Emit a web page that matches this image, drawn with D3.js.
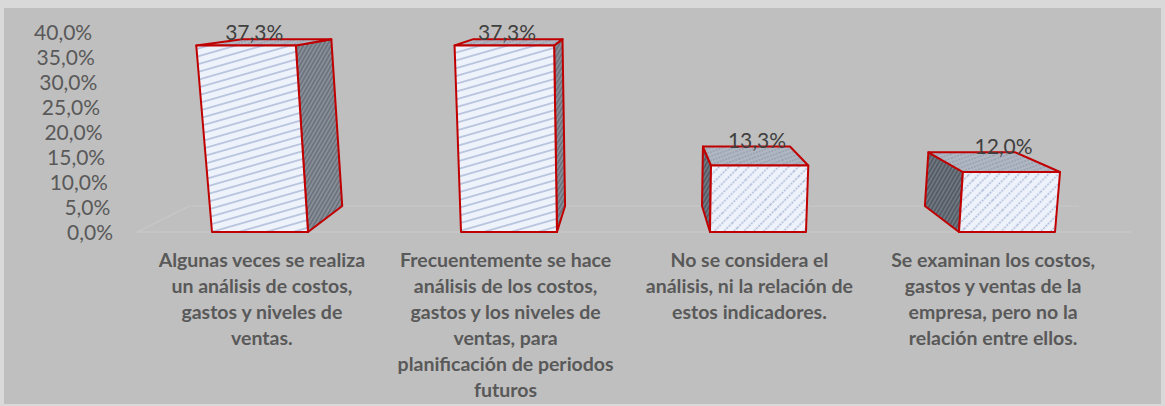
<!DOCTYPE html>
<html><head><meta charset="utf-8">
<script src="https://cdn.jsdelivr.net/npm/d3@7"></script>
<style>html,body{margin:0;padding:0;background:#d9d9d9;}svg{display:block;}</style>
</head><body><svg id="c" width="1165" height="406"></svg>
<script>
// ---- data ----
const categories = [
  "Algunas veces se realiza un análisis de costos, gastos y niveles de ventas.",
  "Frecuentemente se hace análisis de los costos, gastos y los niveles de ventas, para planificación de periodos futuros",
  "No se considera el análisis, ni la relación de estos indicadores.",
  "Se examinan los costos, gastos y ventas de la empresa, pero no la relación entre ellos."
];
const categoryLines = [
  ["Algunas veces se realiza", "un análisis de costos,", "gastos y niveles de", "ventas."],
  ["Frecuentemente se hace", "análisis de los costos,", "gastos y los niveles de", "ventas, para", "planificación de periodos", "futuros"],
  ["No se considera el", "análisis, ni la relación de", "estos indicadores."],
  ["Se examinan los costos,", "gastos y ventas de la", "empresa, pero no la", "relación entre ellos."]
];
const values = [0.373, 0.373, 0.133, 0.120];
const yTicks = [0, 0.05, 0.10, 0.15, 0.20, 0.25, 0.30, 0.35, 0.40];

// ---- setup ----
const svg = d3.select("#c");
const locale = d3.formatLocale({decimal: ",", thousands: ".", grouping: [3], currency: ["", "€"]});
const fmt = locale.format(".1%");

const x = d3.scaleBand().domain(categories).range([135.5, 1131.5]).paddingInner(0.6145).paddingOuter(0.30725);
const xLab = d3.scaleBand().domain(categories).range([140, 1115]);
const y = d3.scaleLinear().domain([0, 0.40]).range([232, 32]);
const depth = d3.scaleLinear().domain([0, 1]).range([0, 0.105]);
const VP = {x: 634, y: -15};  // depth vanishing point
const Dv = 5000;              // vertical convergence distance

function P(xb, v, d) {
  const h = y(0) - y(v);
  const x1 = xb - (VP.x - xb) * h / Dv;
  const y1 = y(0) - h;
  const f = depth(d);
  return [x1 + f * (VP.x - x1), y1 + f * (VP.y - y1)];
}

// background
svg.append("rect").attr("x", 4).attr("y", 8).attr("width", 1157).attr("height", 396)
  .attr("fill", "#bfbfbf");

// patterns
const defs = svg.append("defs");
function stripePattern(id, bg, stroke, spacing, angle, sw, dash) {
  const p = defs.append("pattern").attr("id", id).attr("patternUnits", "userSpaceOnUse")
    .attr("width", 40).attr("height", spacing).attr("patternTransform", `rotate(${angle})`);
  p.append("rect").attr("width", 40).attr("height", spacing).attr("fill", bg);
  const l = p.append("line").attr("x1", 0).attr("x2", 40).attr("y1", spacing / 2).attr("y2", spacing / 2)
    .attr("stroke", stroke).attr("stroke-width", sw);
  if (dash) l.attr("stroke-dasharray", dash);
}
stripePattern("frontTall", "#eef2fb", "#a9b8d6", 7.5, -16, 1.4, null);
stripePattern("frontShort", "#eef2fb", "#a9b8d6", 7, -45, 1.6, "2 1.2");
stripePattern("side", "#6c737d", "#a3aab4", 3.4, -60, 1, null);
stripePattern("sideDark", "#545b65", "#8c949f", 3.4, -60, 1, null);
stripePattern("top", "#b0b7c2", "#8793a6", 4, -20, 1.2, "2 1");

// floor lines
const floorL = 137, floorR = 1131;
const fl = [P(floorL, 0, 0), P(floorR, 0, 0), P(floorR, 0, 1), P(floorL, 0, 1)];
svg.append("path").attr("d", d3.line()([fl[3], fl[0], fl[1]]))
  .attr("fill", "none").attr("stroke", "#cbcbcb").attr("stroke-width", 1);
svg.append("path").attr("d", d3.line()([fl[3], fl[2]]))
  .attr("fill", "none").attr("stroke", "#c8c8c8").attr("stroke-width", 1);

// y-axis labels
svg.append("g").selectAll("text").data(yTicks).join("text")
  .attr("x", d => P(floorL - 24, d, 0)[0])
  .attr("y", d => P(floorL - 24, d, 0)[1])
  .attr("dy", "0.36em")
  .attr("text-anchor", "end")
  .attr("font-family", "Lato, 'Open Sans', sans-serif")
  .attr("font-size", 21)
  .attr("fill", "#595959")
  .text(d => fmt(d));

// bars
const line = d3.line();
const bars = svg.append("g");
categories.forEach((c, i) => {
  const v = values[i];
  const xl = x(c), xr = x(c) + x.bandwidth();
  const fBL = P(xl, 0, 0), fBR = P(xr, 0, 0), fTL = P(xl, v, 0), fTR = P(xr, v, 0);
  const bBL = P(xl, 0, 1), bBR = P(xr, 0, 1), bTL = P(xl, v, 1), bTR = P(xr, v, 1);
  const g = bars.append("g");
  const st = {stroke: "#c00000", w: 2};
  const cx = xl + x.bandwidth() / 2;
  if (cx < VP.x) {
    g.append("path").attr("d", line([fBR, bBR, bTR, fTR]) + "Z")
      .attr("fill", "url(#side)").attr("stroke", st.stroke).attr("stroke-width", st.w).attr("stroke-linejoin", "round");
  } else {
    g.append("path").attr("d", line([fBL, bBL, bTL, fTL]) + "Z")
      .attr("fill", "url(#sideDark)").attr("stroke", st.stroke).attr("stroke-width", st.w).attr("stroke-linejoin", "round");
  }
  g.append("path").attr("d", line([fTL, fTR, bTR, bTL]) + "Z")
    .attr("fill", "url(#top)").attr("stroke", st.stroke).attr("stroke-width", st.w).attr("stroke-linejoin", "round");
  g.append("path").attr("d", line([fBL, fBR, fTR, fTL]) + "Z")
    .attr("fill", v > 0.2 ? "url(#frontTall)" : "url(#frontShort)")
    .attr("stroke", st.stroke).attr("stroke-width", st.w).attr("stroke-linejoin", "round");
  // data label
  const lp = P(cx, v, 0.9);
  const lx = P(cx, v, 0.2)[0];
  g.append("text").attr("x", lx).attr("y", lp[1])
    .attr("text-anchor", "middle")
    .attr("font-family", "Lato, 'Open Sans', sans-serif")
    .attr("font-size", 21).attr("fill", "#404040")
    .text(fmt(v));
});

// category labels
const catG = svg.append("g");
categories.forEach((c, i) => {
  const t = catG.append("text")
    .attr("text-anchor", "middle")
    .attr("font-family", "Lato, 'Open Sans', sans-serif")
    .attr("font-weight", "bold")
    .attr("font-size", 19.5)
    .attr("fill", "#595959");
  categoryLines[i].forEach((ln, j) => {
    t.append("tspan").attr("x", xLab(c) + xLab.bandwidth() / 2).attr("y", 267 + j * 26).text(ln);
  });
});
</script></body></html>
